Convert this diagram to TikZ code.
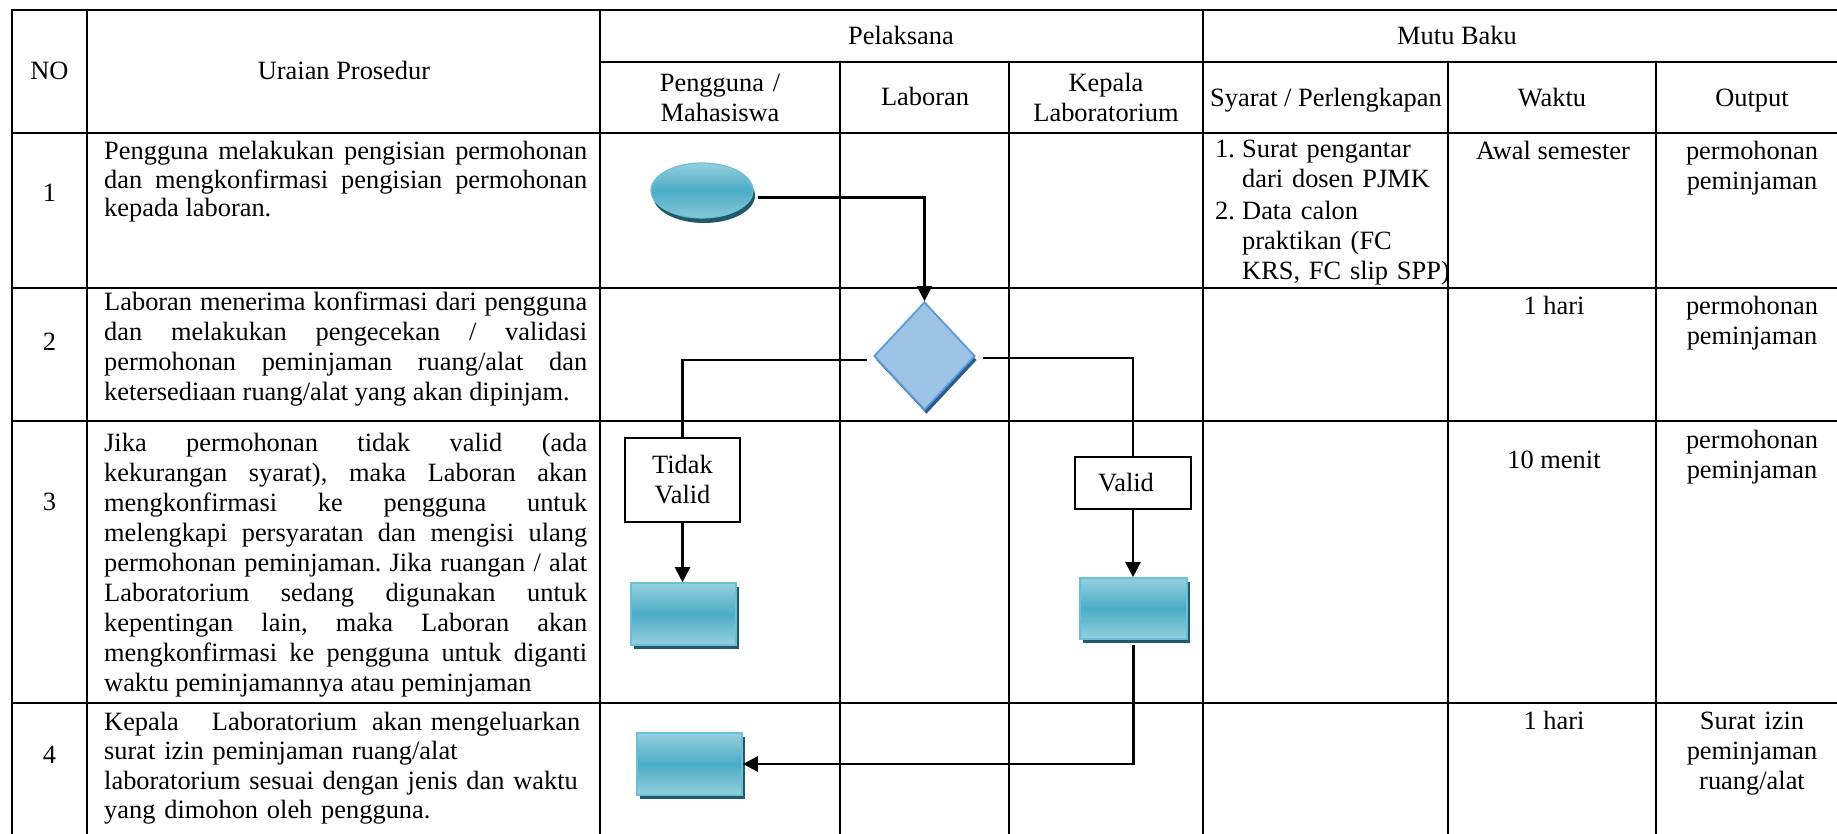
\documentclass[tikz,border=0pt]{standalone}
\usepackage{fontspec}
\setmainfont{Liberation Serif}
\usetikzlibrary{shapes.geometric,shadows,arrows.meta,calc}
\definecolor{tealmid}{HTML}{4BACC6}
\definecolor{teallight}{HTML}{95CFDF}
\definecolor{tealedge}{HTML}{6CC0D5}
\definecolor{tealshadow}{HTML}{215968}
\definecolor{dfill}{HTML}{9DC3E6}
\definecolor{dedge}{HTML}{5B9BD5}
\definecolor{dshadow}{HTML}{2B5C8F}
\newcommand{\myfs}{\fontsize{26.4}{30}\selectfont}
\newcommand{\myfsb}{\fontsize{26.4}{28.5}\selectfont}
\newcommand{\myfsc}{\fontsize{26.4}{29.5}\selectfont}
\hyphenpenalty=10000
\exhyphenpenalty=10000
\tolerance=10000
\hbadness=10000
\frenchspacing
\begin{document}
\begin{tikzpicture}[x=1pt,y=-1pt,
  every node/.style={font=\myfs},
  grid/.style={line width=2.4pt, line cap=rect},
  txt/.style={inner sep=0pt, anchor=base},
  ctxt/.style={inner sep=0pt, anchor=base, text width=190pt, align=center},
  para/.style={inner sep=0pt, anchor=base west, text width=483pt, align=justify},
  tealbox/.style={rectangle, draw=tealedge, line width=1.6pt, top color=teallight, bottom color=teallight, middle color=tealmid, general shadow={fill=tealshadow, shadow xshift=3pt, shadow yshift=-4pt}, inner sep=0pt, minimum width=105pt, minimum height=62pt},
  lbl/.style={rectangle, draw=black, line width=1.8pt, fill=white, inner sep=0pt, align=center},
  conn/.style={line width=2.2pt},
  arr/.style={line width=2.2pt, -{Triangle[width=15pt,length=15pt]}}]
\useasboundingbox (0,0) rectangle (1837,834);
% table grid
\draw[grid] (12,834) -- (12,10) -- (1837,10);
\foreach \yy in {133,288,421,703} \draw[grid] (12,\yy) -- (1837,\yy);
\draw[grid] (600,62) -- (1837,62);
\foreach \xx in {87,600,1203} \draw[grid] (\xx,10) -- (\xx,834);
\foreach \xx in {840,1009,1448,1656} \draw[grid] (\xx,62) -- (\xx,834);
% header
\node[txt] (hno) at (49.5,80) {NO};
\node[txt] (hur) at (344,80) {Uraian Prosedur};
\node[txt] (hpel) at (901,45) {Pelaksana};
\node[txt] (hmutu) at (1457,45) {Mutu Baku};
\node[ctxt] (hpeng) at (720,92) {Pengguna /\\Mahasiswa};
\node[txt] (hlab) at (925,106) {Laboran};
\node[ctxt] (hkep) at (1106,92) {Kepala\\Laboratorium};
\node[txt] (hsy) at (1326,107) {Syarat / Perlengkapan};
\node[txt] (hwak) at (1552,107) {Waktu};
\node[txt] (hout) at (1752,107) {Output};
% numbers
\node[txt] (n1) at (49.5,202) {1};
\node[txt] (n2) at (49.5,350) {2};
\node[txt] (n3) at (49.5,510) {3};
\node[txt] (n4) at (49.5,763) {4};
% procedure texts
\node[para, font=\myfsb] (p1) at (104,160) {Pengguna melakukan pengisian permohonan\linebreak dan mengkonfirmasi pengisian permohonan\linebreak kepada laboran.};
\node[para] (p2) at (104,311) {Laboran menerima konfirmasi dari pengguna\linebreak dan melakukan pengecekan / validasi\linebreak permohonan peminjaman ruang/alat dan\linebreak ketersediaan ruang/alat yang akan dipinjam.};
\node[para] (p3) at (104,451) {\parfillskip=0pt Jika permohonan tidak valid (ada\linebreak kekurangan syarat), maka Laboran akan\linebreak mengkonfirmasi ke pengguna untuk\linebreak melengkapi persyaratan dan mengisi ulang\linebreak permohonan peminjaman. Jika ruangan / alat\linebreak Laboratorium sedang digunakan untuk\linebreak kepentingan lain, maka Laboran akan\linebreak mengkonfirmasi ke pengguna untuk diganti\linebreak waktu peminjamannya atau peminjaman};
\node[para, align=left, font=\myfsc] (p4) at (104,730) {Kepala\hspace{33pt}Laboratorium\hspace{15pt}akan mengeluarkan\\surat izin peminjaman ruang/alat\\laboratorium sesuai dengan jenis dan waktu\\yang dimohon oleh pengguna.};
% syarat
\node[txt, anchor=base west] (s1n) at (1215,158) {1.};
\node[inner sep=0pt, anchor=base west, text width=260pt, align=left] (s1t) at (1242,158) {Surat pengantar\\dari dosen PJMK};
\node[txt, anchor=base west] (s2n) at (1215,220) {2.};
\node[inner sep=0pt, anchor=base west, text width=260pt, align=left] (s2t) at (1242,220) {Data calon\\praktikan (FC\\KRS, FC slip SPP)};
% waktu
\node[txt] (w1) at (1553,160) {Awal semester};
\node[txt] (w2) at (1554,315) {1 hari};
\node[txt] (w3) at (1554,468) {10 menit};
\node[txt] (w4) at (1554,729) {1 hari};
% output
\node[ctxt] (o1) at (1752,160) {permohonan\\peminjaman};
\node[ctxt] (o2) at (1752,315) {permohonan\\peminjaman};
\node[ctxt] (o3) at (1752,448) {permohonan\\peminjaman};
\node[ctxt] (o4) at (1752,729) {Surat izin\\peminjaman\\ruang/alat};
% flow shapes
\node[ellipse, minimum width=102pt, minimum height=55pt, inner sep=0pt, draw=tealedge, line width=1.2pt, top color=teallight, bottom color=teallight!80!tealmid, middle color=tealmid, general shadow={fill=tealshadow, shadow xshift=2pt, shadow yshift=-5pt}] (s) at (702,190.5) {};
\node[diamond, minimum width=101pt, minimum height=108pt, inner sep=0pt, fill=dfill, draw=dedge, line width=1.8pt, general shadow={fill=dshadow, shadow xshift=2pt, shadow yshift=-4pt}] (d) at (924.5,356) {};
\node[lbl, minimum width=115pt, minimum height=84pt] (tv) at (682.5,480) {Tidak\\Valid};
\node[lbl, minimum width=116pt, minimum height=52pt] (vb) at (1133,483) {Valid\hspace{14pt}};
\node[tealbox] (r3a) at (683.5,614) {};
\node[tealbox, minimum width=107pt, minimum height=61pt] (r3b) at (1133.5,608.5) {};
\node[tealbox] (r4) at (689.5,764) {};
% connectors
\draw[arr] ($(s.east)+(4,7)$) -| (d.north);
\draw[conn] ($(d.west)+(-6,4)$) -| (tv.north);
\draw[conn] ($(d.east)+(7,2)$) -| (vb.north);
\draw[arr] (tv.south) -- (tv.south |- r3a.north);
\draw[arr] (vb.south) -- (vb.south |- r3b.north);
\draw[arr] ($(r3b.south)+(0,5)$) |- (r4.east);
\end{tikzpicture}
\end{document}
